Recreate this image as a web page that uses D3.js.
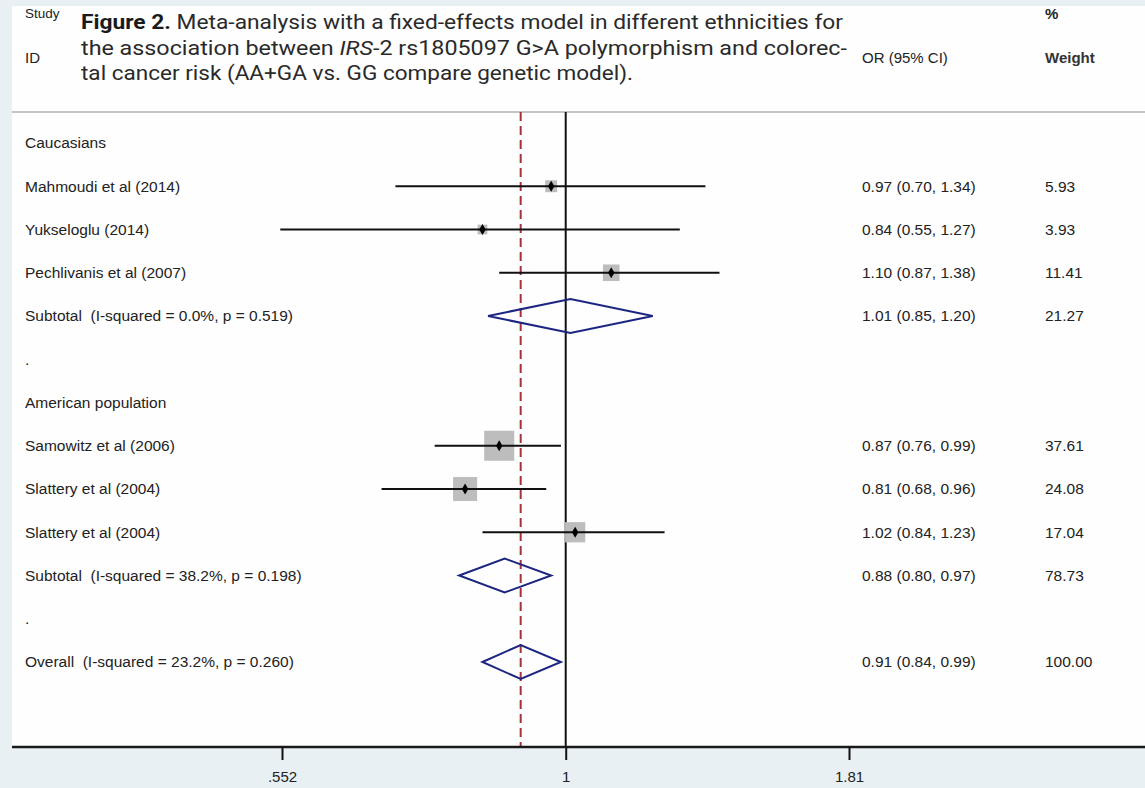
<!DOCTYPE html>
<html>
<head>
<meta charset="utf-8">
<script src="https://cdn.jsdelivr.net/npm/d3@7"></script>
<style>
  body { margin: 0; background: #e8f0f3; }
  svg { display: block; }
  text { white-space: pre; }
</style>
</head>
<body>
<div id="chart"></div>
<script>
// forest plot rows, top to bottom
var rowLabels = ["Caucasians", "Mahmoudi et al (2014)", "Yukseloglu (2014)", "Pechlivanis et al (2007)",
  "Subtotal  (I-squared = 0.0%, p = 0.519)", ".", "American population", "Samowitz et al (2006)",
  "Slattery et al (2004)", "Slattery et al (2004)", "Subtotal  (I-squared = 38.2%, p = 0.198)", ".",
  "Overall  (I-squared = 23.2%, p = 0.260)"];
var rowKind = ["head", "study", "study", "study", "sum", "blank", "head", "study", "study", "study", "sum", "blank", "sum"];
var orVals = [null, 0.97, 0.84, 1.10, 1.01, null, null, 0.87, 0.81, 1.02, 0.88, null, 0.91];
var ciLow  = [null, 0.70, 0.55, 0.87, 0.85, null, null, 0.76, 0.68, 0.84, 0.80, null, 0.84];
var ciHigh = [null, 1.34, 1.27, 1.38, 1.20, null, null, 0.99, 0.96, 1.23, 0.97, null, 0.99];
var weights = [null, 5.93, 3.93, 11.41, 21.27, null, null, 37.61, 24.08, 17.04, 78.73, null, 100.00];
var tickVals = [0.552, 1, 1.81];
var tickText = [".552", "1", "1.81"];
var overallOR = 0.91;

var svgWidth = 1145;
var svgHeight = 788;

var svg = d3.select("#chart")
  .append("svg")
  .attr("width", svgWidth)
  .attr("height", svgHeight);

// white panel
svg.append("rect")
  .attr("x", 12).attr("y", 6)
  .attr("width", svgWidth - 12).attr("height", 741)
  .attr("fill", "#fefefe");

var x = d3.scaleLog()
  .domain([0.552, 1.81])
  .range([282, 849]);

var y = d3.scaleLinear()
  .domain([0, rowLabels.length - 1])
  .range([143, 662]);

var plotTop = 112;
var axisY = 747;
var textFont = "Liberation Sans, Arial, sans-serif";

// header divider
svg.append("line")
  .attr("x1", 12).attr("x2", svgWidth)
  .attr("y1", plotTop).attr("y2", plotTop)
  .attr("stroke", "#c4c4c4").attr("stroke-width", 2);

// column headers
var hdr = svg.append("g")
  .attr("font-family", textFont)
  .attr("font-size", 15)
  .attr("fill", "#222");
hdr.append("text").attr("x", 25).attr("y", 18).attr("font-size", 13.5).text("Study");
hdr.append("text").attr("x", 25).attr("y", 63).text("ID");
hdr.append("text").attr("x", 862).attr("y", 63).text("OR (95% CI)");
hdr.append("text").attr("x", 1045).attr("y", 19).attr("font-weight", "bold").text("%");
hdr.append("text").attr("x", 1045).attr("y", 63).attr("font-weight", "bold").attr("fill", "#333").text("Weight");

// caption
var cap = svg.append("g")
  .attr("font-family", "Roboto, sans-serif")
  .attr("font-size", 20)
  .attr("fill", "#2a2a2a");
var l1 = cap.append("text").attr("x", 81).attr("y", 29)
  .attr("textLength", 762).attr("lengthAdjust", "spacingAndGlyphs");
l1.append("tspan").attr("font-weight", "bold").attr("fill", "#1a1a1a").text("Figure 2.");
l1.append("tspan").text(" Meta-analysis with a fixed-effects model in different ethnicities for");
var l2 = cap.append("text").attr("x", 81).attr("y", 55)
  .attr("textLength", 766).attr("lengthAdjust", "spacingAndGlyphs");
l2.append("tspan").text("the association between ");
l2.append("tspan").attr("font-style", "italic").text("IRS");
l2.append("tspan").text("-2 rs1805097 G>A polymorphism and colorec-");
cap.append("text").attr("x", 81).attr("y", 80)
  .attr("textLength", 552).attr("lengthAdjust", "spacingAndGlyphs")
  .text("tal cancer risk (AA+GA vs. GG compare genetic model).");

// null line and overall dashed line
svg.append("line")
  .attr("x1", x(1)).attr("x2", x(1))
  .attr("y1", plotTop).attr("y2", axisY)
  .attr("stroke", "#111").attr("stroke-width", 2);
svg.append("line")
  .attr("x1", x(overallOR)).attr("x2", x(overallOR))
  .attr("y1", plotTop).attr("y2", axisY)
  .attr("stroke", "#a8323a").attr("stroke-width", 2)
  .attr("stroke-dasharray", "9,5");

var rows = rowLabels.map(function(d, i) {
  return { label: d, kind: rowKind[i], or: orVals[i], lo: ciLow[i], hi: ciHigh[i], w: weights[i], i: i };
});

// row labels
svg.append("g")
  .attr("font-family", textFont)
  .attr("font-size", 15.5)
  .attr("fill", "#222")
  .selectAll("text")
  .data(rows)
  .enter().append("text")
  .attr("x", 25)
  .attr("y", d => y(d.i))
  .attr("dy", "0.35em")
  .text(d => d.label);

var studies = rows.filter(d => d.kind === "study");
var sums = rows.filter(d => d.kind === "sum");

// weight boxes
svg.append("g").selectAll("rect")
  .data(studies)
  .enter().append("rect")
  .attr("x", d => x(d.or) - 2.45 * Math.sqrt(d.w))
  .attr("y", d => y(d.i) - 2.45 * Math.sqrt(d.w))
  .attr("width", d => 4.9 * Math.sqrt(d.w))
  .attr("height", d => 4.9 * Math.sqrt(d.w))
  .attr("fill", "#bdbdbd");

// confidence intervals
svg.append("g").selectAll("line")
  .data(studies)
  .enter().append("line")
  .attr("x1", d => x(d.lo))
  .attr("x2", d => x(d.hi))
  .attr("y1", d => y(d.i))
  .attr("y2", d => y(d.i))
  .attr("stroke", "#111")
  .attr("stroke-width", 2);

// point estimates
svg.append("g").selectAll("path")
  .data(studies)
  .enter().append("path")
  .attr("d", d3.symbol().type(d3.symbolDiamond).size(36))
  .attr("transform", d => `translate(${x(d.or)},${y(d.i)})`)
  .attr("fill", "#000");

// pooled diamonds
svg.append("g").selectAll("path")
  .data(sums)
  .enter().append("path")
  .attr("d", function(d) {
    var cy = y(d.i);
    return `M${x(d.lo)},${cy}L${x(d.or)},${cy - 17}L${x(d.hi)},${cy}L${x(d.or)},${cy + 17}Z`;
  })
  .attr("fill", "none")
  .attr("stroke", "#1c2680")
  .attr("stroke-width", 2);

// right-hand columns
var right = svg.append("g")
  .attr("font-family", textFont)
  .attr("font-size", 15.5)
  .attr("fill", "#222");
right.selectAll(".ci")
  .data(rows.filter(d => d.or !== null))
  .enter().append("text")
  .attr("class", "ci")
  .attr("x", 862)
  .attr("y", d => y(d.i))
  .attr("dy", "0.35em")
  .text(d => `${d.or.toFixed(2)} (${d.lo.toFixed(2)}, ${d.hi.toFixed(2)})`);
right.selectAll(".wt")
  .data(rows.filter(d => d.w !== null))
  .enter().append("text")
  .attr("class", "wt")
  .attr("x", 1045)
  .attr("y", d => y(d.i))
  .attr("dy", "0.35em")
  .text(d => d.w.toFixed(2));

// x axis
svg.append("line")
  .attr("x1", 12).attr("x2", svgWidth)
  .attr("y1", axisY).attr("y2", axisY)
  .attr("stroke", "#1a1a1a").attr("stroke-width", 2.5);

var xAxis = svg.append("g")
  .attr("transform", `translate(0, ${axisY})`)
  .call(d3.axisBottom(x)
    .tickValues(tickVals)
    .tickFormat((d, i) => tickText[i])
    .tickSize(13)
    .tickPadding(11));
xAxis.select(".domain").remove();
xAxis.selectAll(".tick line").attr("stroke", "#111").attr("stroke-width", 2);
xAxis.selectAll(".tick text")
  .attr("font-family", textFont)
  .attr("font-size", 15)
  .attr("fill", "#222");
</script>
</body>
</html>
